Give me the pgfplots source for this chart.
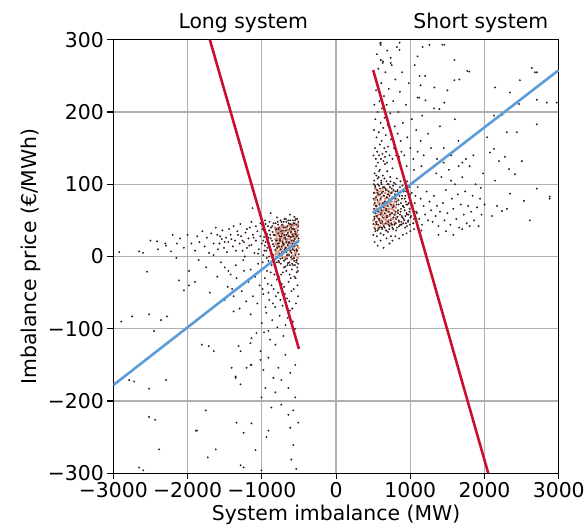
\documentclass[border=0pt]{standalone}
\usepackage{fontspec}
\setmainfont{DejaVu Sans}
\usepackage{pgfplots}
\pgfplotsset{compat=1.18}
\usetikzlibrary{calc}
\definecolor{fitred}{RGB}{200,16,46}
\definecolor{fitblue}{RGB}{91,157,214}
\definecolor{dotdark}{RGB}{55,30,30}
\definecolor{dotcore}{RGB}{214,140,122}
\definecolor{gridgray}{RGB}{176,176,176}
\tikzset{
  core/.style={only marks, mark=*, mark size=1.2pt, color=dotcore, mark options={draw=dotcore, fill=dotcore}},
  dots/.style={only marks, mark=*, mark size=0.75pt, color=dotdark, mark options={draw=dotdark, fill=dotdark}},
  fit/.style={no marks, line width=2.6pt},
}
\begin{document}
\begin{tikzpicture}
\begin{axis}[
  name=ax,
  scale only axis,
  width=448pt, height=436pt,
  xmin=-3000, xmax=3000, ymin=-300, ymax=300,
  xtick={-3000,-2000,-1000,0,1000,2000,3000},
  xticklabels={−3000,−2000,−1000,0,1000,2000,3000},
  ytick={-300,-200,-100,0,100,200,300},
  yticklabels={−300,−200,−100,0,100,200,300},
  tick align=outside,
  major tick length=6pt,
  tick style={black, line width=1.1pt},
  axis line style={line width=1.3pt},
  grid=major,
  major grid style={gridgray, line width=1.3pt},
  xtick pos=bottom, ytick pos=left,
  ticklabel style={font=\fontsize{20.5}{24}\selectfont},
  label style={font=\fontsize{20.5}{24}\selectfont},
  xlabel={System imbalance (MW)},
  ylabel={Imbalance price (€/MWh)},
  clip mode=individual,
]
% ---- long system: core of the cloud
\addplot[core] coordinates {
(-505,12)(-512,30)(-518,-2)(-524,40)(-531,20)(-537,5)(-544,34)(-550,15)(-557,44)(-563,26)(-570,0)(-576,38)(-583,10)(-589,22)(-596,32)(-602,-4)(-609,18)(-615,42)(-622,8)(-628,28)(-635,36)(-641,14)(-648,3)(-654,24)(-661,40)(-667,11)(-674,30)(-680,19)(-687,-1)(-693,35)(-700,6)(-706,25)(-713,43)(-719,16)(-726,2)(-732,31)(-739,21)(-745,38)(-752,9)(-758,27)(-765,13)(-771,36)(-778,4)(-784,23)(-791,33)(-797,15)(-804,7)(-810,29)(-817,18)(-823,40)
(-508,22)(-515,45)(-521,8)(-528,33)(-534,-6)(-541,26)(-547,38)(-554,4)(-560,20)(-567,31)(-573,12)(-580,42)(-586,1)(-593,27)(-599,17)(-606,35)(-612,6)(-619,24)(-625,14)(-632,44)(-638,20)(-645,31)(-651,9)(-658,37)(-664,0)(-671,22)(-677,41)(-684,13)(-690,27)(-697,18)(-703,34)(-710,8)(-716,29)(-723,22)(-729,12)(-736,42)(-742,26)(-749,1)(-755,33)(-762,20)(-768,8)(-775,30)(-781,16)(-788,39)(-794,25)(-801,11)(-807,34)(-814,3)(-820,24)
};
% ---- long system: dense part
\addplot[dots] coordinates {
(-510,42)(-520,15)(-530,-5)(-540,30)(-550,50)(-560,8)(-570,22)(-580,-12)(-590,38)(-600,5)(-610,27)(-620,45)(-630,-8)(-640,18)(-650,33)(-660,2)(-670,48)(-680,12)(-690,26)(-700,-15)(-710,40)(-720,20)(-730,6)(-740,35)(-750,-3)(-760,28)(-770,14)(-780,44)(-790,0)(-800,22)(-810,37)(-820,9)(-830,-10)(-840,30)(-850,17)(-860,42)(-870,4)(-880,25)(-890,12)(-900,36)(-910,-6)(-920,20)(-930,31)(-940,8)(-950,45)(-960,15)(-970,27)(-980,2)(-990,38)(-1000,18)(-1020,28)(-1040,10)(-1060,35)(-1080,22)(-1100,5)(-1120,30)(-1140,16)(-1160,40)(-1180,25)(-1200,12)(-1220,33)(-1240,20)(-1260,8)(-1280,28)(-1300,18)(-1330,35)(-1360,22)(-1390,14)(-1420,30)(-1450,20)(-1480,26)(-1510,12)(-1540,24)(-1570,18)(-1600,30)
(-505,25)(-515,-20)(-525,52)(-535,10)(-545,-30)(-555,35)(-565,-2)(-575,46)(-585,18)(-595,-18)(-605,40)(-615,12)(-625,-25)(-635,28)(-645,50)(-655,-12)(-665,20)(-675,36)(-685,-4)(-695,52)(-705,16)(-715,-22)(-725,32)(-735,48)(-745,10)(-755,24)(-765,-8)(-775,38)(-785,18)(-795,54)
(-503,3)(-507,48)(-511,-10)(-514,36)(-517,20)(-522,-15)(-526,28)(-529,8)(-533,44)(-536,-8)(-539,18)(-543,52)(-546,2)(-549,32)(-553,-12)(-556,24)(-559,46)(-562,-6)(-566,14)(-569,38)(-572,28)(-578,-3)(-581,50)(-584,10)(-588,30)(-592,-10)(-597,44)(-601,22)(-604,-1)(-608,34)(-613,8)(-617,50)(-621,-12)(-626,38)(-630,20)(-634,2)(-639,46)(-643,28)(-647,-9)(-652,16)(-656,42)(-661,-3)(-666,30)(-670,6)(-676,52)(-679,24)(-683,-14)(-688,40)(-692,10)(-698,30)(-702,-6)(-707,48)(-712,18)(-717,36)(-722,-2)(-727,44)(-733,14)(-738,28)(-744,-10)(-748,50)(-754,22)(-759,4)(-764,40)(-769,18)(-774,-6)(-779,32)(-786,48)(-792,12)(-798,-8)(-803,38)(-809,22)(-815,46)(-822,-4)(-828,30)(-835,14)(-842,46)(-848,2)(-855,34)(-862,22)(-868,-12)(-875,40)(-882,10)(-888,30)(-895,48)(-902,0)(-910,26)(-918,42)(-925,12)(-933,-2)(-940,32)(-948,20)(-956,50)(-964,8)(-972,36)(-980,22)(-988,-8)(-996,44)
(-520,-40)(-540,-65)(-560,-28)(-580,-90)(-600,-48)(-620,-75)(-640,-35)(-660,-58)(-680,-95)(-700,-42)(-720,-68)(-740,-25)(-760,-82)(-780,-50)(-800,-32)(-820,-70)(-840,-45)(-860,-88)(-880,-22)(-900,-60)(-920,-38)(-940,-78)(-960,-30)(-980,-52)(-1000,-92)(-1030,-40)(-1060,-65)(-1090,-28)(-1120,-55)(-1150,-80)(-1180,-35)(-1210,-62)(-1240,-20)(-1270,-48)(-1300,-72)(-1340,-30)(-1380,-55)(-1420,-25)(-1460,-42)(-1500,-15)
(-510,-55)(-530,-22)(-550,-100)(-570,-45)(-590,-72)(-610,-30)(-630,-62)(-650,-85)(-670,-20)(-690,-52)(-710,-110)(-730,-38)(-750,-60)(-770,-28)(-790,-98)(-810,-55)(-830,-25)(-850,-65)(-870,-40)(-890,-115)(-910,-50)(-930,-20)(-950,-70)(-970,-105)(-990,-45)
(-2100,25)(-2050,12)(-2000,30)(-1950,18)(-1900,8)(-1870,28)(-1840,20)(-1800,35)(-1770,14)(-1740,26)(-1710,5)(-1680,32)(-1650,18)(-1620,40)(-1590,10)(-1560,28)(-1530,36)(-1500,20)(-1470,6)(-1440,38)(-1410,24)(-1380,42)(-1350,8)(-1320,30)(-1290,45)(-1260,22)(-1230,0)(-1200,38)(-1170,15)(-1140,48)(-1110,26)(-1080,42)(-1050,4)(-1020,46)
(-1850,-5)(-1750,-15)(-1650,2)(-1550,-8)(-1450,-20)(-1350,-12)(-1250,-5)(-1150,-18)(-1050,-10)
(-2300,18)(-2400,10)(-2500,22)(-2600,5)(-2200,30)(-2150,-2)(-1980,-20)(-1900,-35)(-1700,-50)(-1600,-28)(-1500,-60)(-1400,-45)
(-1125,67)(-620,58)(-560,55)(-880,60)
};
% ---- long system: outliers
\addplot[dots] coordinates {
(-2920,6)(-2652,7)(-2411,21)(-2290,15)(-2223,7)(-2143,18)(-2545,-21)(-2116,-33)(-2049,-47)(-1982,-40)
(-2746,-83)(-2893,-90)(-2518,-80)(-2357,-88)(-2277,-83)(-2451,-103)(-1808,-122)(-1714,-124)(-1647,-131)
(-2786,-171)(-2719,-173)(-2518,-183)(-2290,-171)(-2518,-222)(-2438,-226)(-1755,-213)(-1875,-241)(-2384,-267)
(-2652,-292)(-2598,-296)(-1621,-267)(-1728,-278)
(-1380,-76)(-1313,-124)(-1139,-113)(-1206,-154)(-1353,-168)(-1286,-177)(-1139,-150)(-1005,-195)(-871,-209)
(-737,-171)(-643,-182)(-576,-213)(-509,-230)(-617,-237)(-911,-241)(-938,-250)(-1340,-230)(-1139,-231)
(-1246,-244)(-1085,-268)(-576,-261)(-603,-281)(-536,-294)(-1286,-289)(-1246,-292)(-1005,-296)
(-817,-122)(-683,-136)(-549,-150)(-777,-154)(-617,-161)(-844,-168)(-911,-140)(-1018,-131)(-951,-182)
(-817,-188)(-549,-195)(-737,-205)(-643,-219)(-911,-103)(-1072,-106)(-1153,-120)(-1286,-131)(-1407,-154)
(-1353,-166)(-1152,-150)(-1018,-143)(-978,-157)(-1889,-241)
};
% ---- short system: core of the cloud
\addplot[core] coordinates {
(505,50)(512,72)(518,88)(525,60)(531,44)(538,80)(544,66)(551,92)(557,54)(564,75)(570,40)(577,85)(583,62)(590,48)(596,78)(603,68)(609,90)(616,56)(622,72)(629,45)(635,84)(642,64)(648,52)(655,76)(661,88)(668,58)(674,70)(681,46)(687,82)(694,62)(700,74)(707,50)(713,86)(720,66)(726,56)(733,78)(739,44)(746,70)(752,60)(759,82)(765,52)(772,72)(778,64)(785,48)(791,76)(798,58)(804,68)(811,54)(817,80)(824,62)
(508,62)(515,40)(521,78)(528,94)(534,56)(541,70)(547,48)(554,84)(560,64)(567,58)(573,90)(580,52)(586,74)(593,42)(599,66)(606,82)(612,50)(619,62)(625,94)(632,58)(638,74)(645,44)(651,68)(658,54)(664,80)(671,64)(677,50)(684,72)(690,92)(697,56)(703,66)(710,80)(716,46)(723,74)(729,88)(736,60)(742,52)(749,76)(755,66)(762,90)
};
% ---- short system: dense part
\addplot[dots] coordinates {
(502,30)(510,100)(520,115)(530,35)(540,125)(550,28)(560,108)(570,38)(580,98)(590,120)(600,32)(610,105)(620,40)(630,112)(640,30)(650,96)(660,128)(670,36)(680,104)(690,118)(700,34)(710,100)(720,42)(730,110)(740,28)(750,94)(760,122)(770,38)(780,102)(790,45)(800,90)(810,36)(820,108)(830,55)(840,78)(850,42)(860,96)(870,62)(880,48)(890,84)(900,70)(910,52)(920,92)(930,40)(940,76)(950,60)(960,104)(970,48)(980,82)(990,66)(1000,54)(1020,88)(1040,46)(1060,74)(1080,62)(1100,96)(1120,52)(1140,80)(1160,44)(1180,70)(1200,58)(1220,90)(1240,50)(1260,76)(1280,64)(1300,48)(1320,84)(1340,56)(1360,70)(1380,42)(1400,62)
(505,80)(515,55)(525,98)(535,70)(545,45)(555,88)(565,62)(575,110)(585,50)(595,86)(605,60)(615,100)(625,48)(635,90)(645,72)(655,40)(665,94)(675,66)(685,54)(695,86)(705,44)(715,78)(725,96)(735,50)(745,88)(755,44)(765,68)(775,92)(785,58)(795,80)(805,46)(815,72)(825,90)(835,64)(845,50)(855,84)(865,44)(875,74)(885,56)(895,98)(905,46)(915,68)(925,80)(935,56)(945,90)(955,42)(965,72)(975,58)(985,96)(995,44)
(503,45)(507,88)(511,66)(514,105)(517,52)(522,74)(526,38)(529,96)(533,60)(536,82)(539,48)(543,112)(546,70)(549,56)(553,92)(556,36)(559,78)(562,100)(566,44)(569,66)(572,86)(578,52)(581,118)(584,72)(588,40)(592,94)(597,58)(601,80)(604,46)(608,102)(613,64)(617,88)(621,38)(626,74)(630,54)(634,96)(639,68)(643,42)(647,84)(652,108)(656,60)(661,76)(666,46)(670,92)(676,64)(679,36)(683,82)(688,56)(692,100)(698,70)(702,48)(707,90)(712,62)(717,38)(722,84)(727,58)(733,104)(738,72)(744,46)(748,88)(754,60)(759,40)(764,80)(769,98)(774,54)(779,70)(786,44)(792,86)(798,62)(803,100)(809,52)(815,76)(822,40)(828,92)(835,60)(842,72)(848,48)(855,88)(862,58)(868,104)(875,66)(882,44)(888,80)(895,54)(902,70)(910,90)(918,50)(925,64)(933,84)(940,46)(948,72)(956,58)(964,92)(972,50)(980,74)(988,62)(996,86)(1010,56)(1030,70)(1050,52)(1070,84)(1090,60)
(520,20)(560,15)(600,22)(640,12)(680,25)(720,18)(760,22)(800,28)(850,25)(900,30)(950,32)(1000,35)(1050,38)(1100,40)(1150,36)
(505,140)(510,175)(515,210)(520,250)(525,150)(530,190)(535,135)(540,230)(545,165)(550,280)(555,145)(560,200)(565,130)(570,260)(575,172)(580,140)(585,215)(590,155)(595,295)(600,185)(605,135)(610,240)(615,160)(620,205)(625,142)(630,270)(635,178)(640,132)(645,222)(650,150)(655,192)(660,138)(665,255)(670,168)(675,145)(680,210)(685,130)(690,285)(695,182)(700,152)(710,232)(720,140)(730,198)(740,162)(750,265)(760,135)(770,215)(780,150)(790,180)(800,245)(810,140)(820,290)(830,170)(840,200)(850,138)(860,228)(870,160)(880,145)(890,255)(900,185)(920,140)(940,210)(960,165)(980,240)(1000,150)(1020,190)(1040,135)(1060,265)(1080,175)(1100,145)(1120,220)(1140,160)(1160,195)(1180,140)(1200,250)(1240,170)(1280,150)(1320,205)(1360,135)(1400,180)(1450,150)(1500,230)(1550,140)(1600,190)(1650,160)(1700,130)
(1420,110)(1440,74)(1460,50)(1480,92)(1500,60)(1520,120)(1540,44)(1560,80)(1580,66)(1600,100)(1620,52)(1640,86)(1660,40)(1680,72)(1700,110)(1720,58)(1740,90)(1760,46)(1780,70)(1800,125)(1820,62)(1840,84)(1860,50)(1880,100)(1900,68)(1920,42)(1940,80)(1960,58)(1980,115)(2000,72)
(1450,130)(1550,105)(1650,125)(1750,135)(1850,140)(1950,95)(1350,115)(1250,120)(1150,125)(1050,120)(950,125)(1380,30)(1480,35)(1580,30)(1700,38)(1800,42)
};
% ---- short system: outliers
\addplot[dots] coordinates {
(602,293)(736,275)(629,268)(1165,290)(1258,293)(1432,293)(1098,277)(1593,272)(1794,256)(2637,261)(2704,255)
(602,296)(856,296)(602,272)(736,268)(856,286)(1125,250)(1138,237)(1325,234)(1459,293)(1660,245)(1767,257)
(2142,234)(2476,244)(2677,255)(2342,227)(2704,217)(2838,213)(2128,195)(2235,196)(2463,211)(1593,244)
(1459,213)(1392,204)(1205,216)(1098,220)
(2302,172)(2436,172)(2704,183)(2195,132)(2329,121)(2503,132)(2409,114)(2704,94)(2878,80)(2342,87)(2530,77)
(2610,50)(2169,70)(2235,63)(2102,56)(2302,66)(2142,105)(2075,144)(2128,149)(2275,138)(2035,165)(2878,83)(2972,213)
};
% ---- fitted lines
\addplot[fit, fitblue] coordinates {(-3000,-178) (-500,22)};
\addplot[fit, fitred] coordinates {(-1700,300) (-500,-128)};
\addplot[fit, fitblue] coordinates {(500,60) (3000,258)};
\addplot[fit, fitred] coordinates {(500,258) (2050,-300)};
\node[anchor=base, font=\fontsize{20.5}{24}\selectfont] at (axis cs:-1250,300) [yshift=11pt] {Long system};
\node[anchor=base, font=\fontsize{20.5}{24}\selectfont] at (axis cs:1950,300) [yshift=11pt] {Short system};
\end{axis}
\path (ax.south west) ++(-114pt,-59pt) coordinate (bbA);
\path (ax.north east) ++(29pt,40pt) coordinate (bbB);
\path[use as bounding box] (bbA) rectangle (bbB);
\end{tikzpicture}
\end{document}
